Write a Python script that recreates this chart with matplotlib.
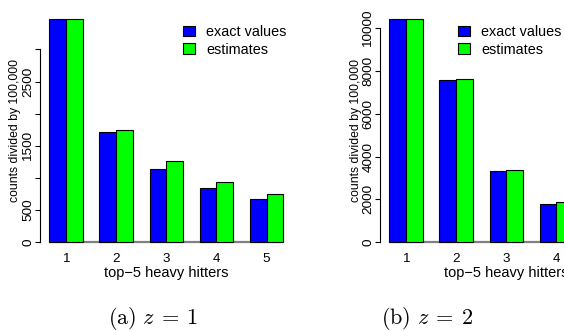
import numpy as np
import matplotlib
matplotlib.use("Agg")
import matplotlib.pyplot as plt
from matplotlib.patches import Patch

plt.rcParams["font.family"] = ["Liberation Sans", "DejaVu Sans"]
plt.rcParams["mathtext.fontset"] = "cm"

# values (counts / 100,000)
groups = ["1", "2", "3", "4", "5"]
exact_z1 = [3470, 1720, 1140, 840, 675]
estim_z1 = [3475, 1740, 1260, 930, 755]
yticks_z1 = [0, 500, 1000, 1500, 2000, 2500, 3000]
ylabels_z1 = ["0", "500", "", "1500", "", "2500", ""]

# panel (b) is cut at the right edge: only four groups are visible
exact_z2 = [10400, 7560, 3330, 1800]
estim_z2 = [10420, 7620, 3375, 1895]
yticks_z2 = [0, 2000, 4000, 6000, 8000, 10000]
ylabels_z2 = ["0", "2000", "4000", "6000", "8000", "10000"]

BLUE = "#0000FF"
GREEN = "#00FF00"

W, H = 564, 331
fig = plt.figure(figsize=(W / 100, H / 100), dpi=100)


def panel(left_px, exact, estim, yticks, ylabels, caption, leg_dx, cap_x):
    ax_w, ax_h = 252.6, 241.2
    ax = fig.add_axes([left_px / W, (H - 251.2) / H, ax_w / W, ax_h / H])
    n = len(exact)
    # R barplot(beside=TRUE) layout: one unit gap before each pair of bars
    xb = np.arange(n) * 3 + 1.5
    xg = xb + 1
    ax.bar(xb, exact, width=1, color=BLUE, edgecolor="black", lw=0.8, zorder=3)
    ax.bar(xg, estim, width=1, color=GREEN, edgecolor="black", lw=0.8, zorder=3)
    ax.hlines(0, 1, 15, color="#808080", lw=1.6, zorder=2)

    ymax = max(max(exact), max(estim))
    ax.set_xlim(0.44, 15.56)
    ax.set_ylim(-0.04 * ymax, 1.04 * ymax)

    for s in ["top", "right", "bottom"]:
        ax.spines[s].set_visible(False)
    ax.spines["left"].set_bounds(yticks[0], yticks[-1])
    ax.spines["left"].set_linewidth(0.8)

    ax.set_yticks(yticks)
    ax.set_yticklabels(ylabels, va="center")
    ax.tick_params(axis="y", labelrotation=90, length=3.5, width=0.8,
                   pad=0.5, labelsize=9.7)
    ax.set_xticks(xb + 0.5)
    ax.set_xticklabels(groups[:n])
    ax.tick_params(axis="x", length=0, pad=1, labelsize=9.7)

    ax.set_ylabel("counts divided by 100,000", fontsize=8.8, va="center")
    ax.yaxis.set_label_coords(-24.5 / ax_w, 0.5)
    ax.set_xlabel("top\u22125 heavy hitters", fontsize=10.5, va="center")
    ax.xaxis.set_label_coords(0.5, -21.8 / ax_h)

    handles = [Patch(facecolor=BLUE, edgecolor="black", lw=0.8),
               Patch(facecolor=GREEN, edgecolor="black", lw=0.8)]
    ax.legend(handles, ["exact values", "estimates"], loc="upper left",
              bbox_to_anchor=((left_px + leg_dx) / W, (H - 25) / H),
              bbox_transform=fig.transFigure, frameon=False, fontsize=10.4,
              handlelength=0.8, handleheight=0.7, handletextpad=0.8,
              labelspacing=0.25, borderpad=0, borderaxespad=0)

    fig.text(cap_x / W, 1 - 319 / H, caption, ha="center",
             va="center", fontsize=16)
    return ax


panel(40, exact_z1, estim_z1, yticks_z1, ylabels_z1,
      r"$\mathrm{(a)}\ z\:=\:1$", 143, 153)
panel(380, exact_z2, estim_z2, yticks_z2, ylabels_z2,
      r"$\mathrm{(b)}\ z\:=\:2$", 78, 427)

fig.savefig("out.png", dpi=100)
